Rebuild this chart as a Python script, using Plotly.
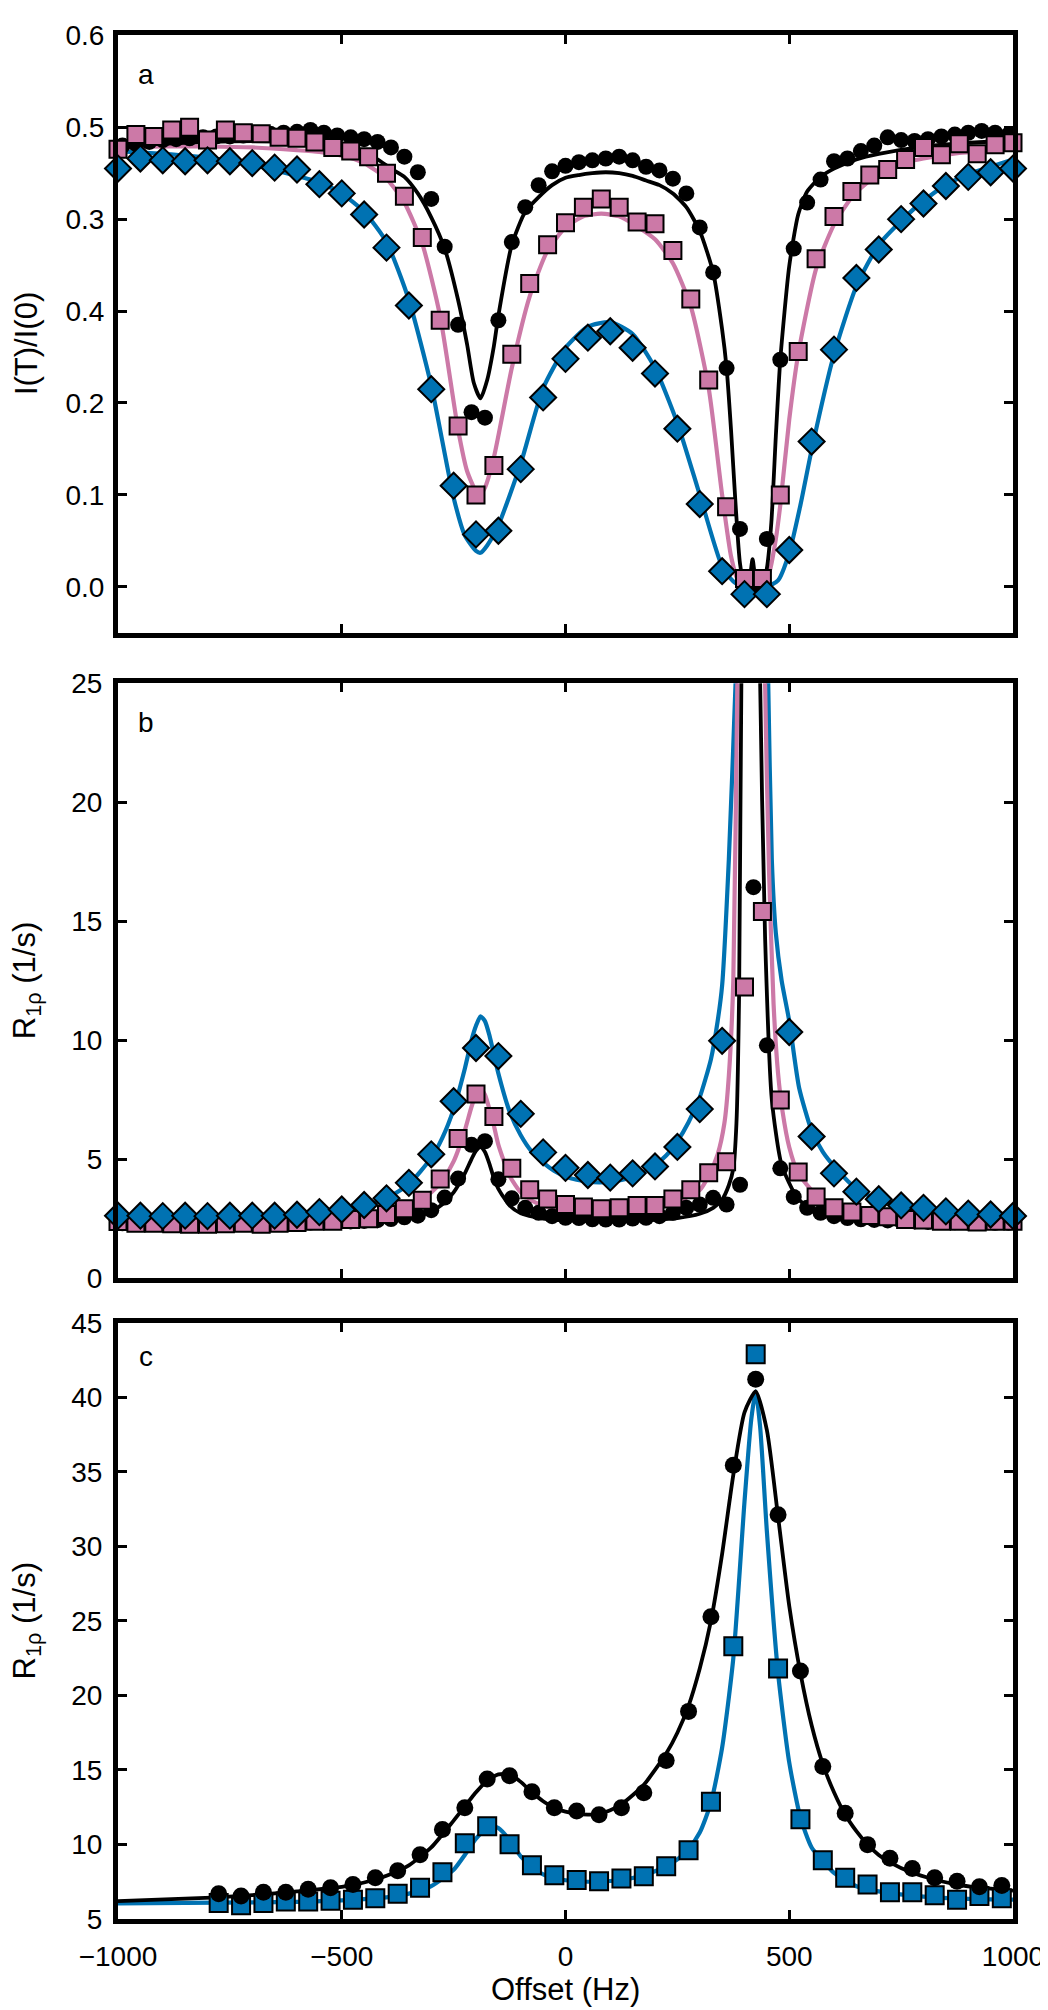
import plotly.graph_objects as go

FONT = "Liberation Sans, Arial, Helvetica, sans-serif"
BLACK = "#000000"
PINK = "#CC79A7"
BLUE = "#0072B2"

# ---------------- Panel a : I(T)/I(0) ----------------
a_circ_x = [-990, -960, -930, -900, -870, -840, -810, -780, -750, -720, -690, -660, -630, -600,
            -570, -540, -510, -480, -450, -420, -390, -360, -330, -300, -270, -240, -210, -180,
            -150, -120, -90, -60, -30, 0, 30, 60, 90, 120, 150, 180, 210, 240, 270, 300, 330,
            360, 390, 420, 450, 480, 510, 540, 570, 600, 630, 660, 690, 720, 750, 780, 810, 840,
            870, 900, 930, 960, 990]
a_circ_y = [0.480, 0.482, 0.484, 0.486, 0.487, 0.488, 0.489, 0.490, 0.490, 0.491, 0.492, 0.493,
            0.494, 0.495, 0.497, 0.494, 0.491, 0.489, 0.487, 0.484, 0.478, 0.468, 0.451, 0.422,
            0.370, 0.285, 0.190, 0.184, 0.290, 0.375, 0.413, 0.437, 0.452, 0.458, 0.462, 0.464,
            0.466, 0.468, 0.464, 0.457, 0.453, 0.444, 0.428, 0.391, 0.342, 0.238, 0.063, 0.003,
            0.052, 0.247, 0.368, 0.418, 0.443, 0.463, 0.466, 0.474, 0.480, 0.489, 0.486, 0.485,
            0.487, 0.490, 0.492, 0.494, 0.496, 0.494, 0.492]

a_sq_x = [-1000, -960, -920, -880, -840, -800, -760, -720, -680, -640, -600, -560, -520, -480,
          -440, -400, -360, -320, -280, -240, -200, -160, -120, -80, -40, 0, 40, 80, 120, 160,
          200, 240, 280, 320, 360, 400, 440, 480, 520, 560, 600, 640, 680, 720, 760, 800, 840,
          880, 920, 960, 1000]
a_sq_y = [0.476, 0.492, 0.490, 0.497, 0.500, 0.486, 0.497, 0.494, 0.493, 0.489, 0.488, 0.484,
          0.478, 0.474, 0.468, 0.450, 0.425, 0.380, 0.290, 0.175, 0.100, 0.132, 0.253, 0.330,
          0.372, 0.396, 0.413, 0.422, 0.413, 0.397, 0.395, 0.366, 0.313, 0.225, 0.087, 0.009,
          0.009, 0.100, 0.256, 0.357, 0.403, 0.430, 0.448, 0.454, 0.465, 0.478, 0.470, 0.482,
          0.471, 0.481, 0.483]

a_dia_x = [-1000, -950, -900, -850, -800, -750, -700, -650, -600, -550, -500, -450, -400, -350,
           -300, -250, -200, -150, -100, -50, 0, 50, 100, 150, 200, 250, 300, 350, 400, 450, 500,
           550, 600, 650, 700, 750, 800, 850, 900, 950, 1000]
a_dia_y = [0.455, 0.466, 0.464, 0.463, 0.464, 0.463, 0.461, 0.456, 0.454, 0.438, 0.428, 0.405,
           0.369, 0.306, 0.215, 0.110, 0.057, 0.061, 0.128, 0.206, 0.248, 0.271, 0.278, 0.260,
           0.232, 0.172, 0.090, 0.017, -0.008, -0.008, 0.040, 0.158, 0.258, 0.336, 0.367, 0.400,
           0.417, 0.436, 0.446, 0.451, 0.455]

a_black_fit_x = [-1000, -900, -800, -700, -600, -550, -500, -450, -420, -390, -360, -330, -300,
                 -270, -240, -220, -205, -190, -175, -160, -150, -120, -90, -60, -30, 0, 30, 60,
                 90, 120, 150, 180, 210, 240, 270, 300, 330, 350, 360, 370, 380, 390, 400, 410,
                 418, 426, 440, 450, 460, 470, 480, 500, 520, 540, 570, 600, 650, 700, 800, 900,
                 1000]
a_black_fit_y = [0.480, 0.482, 0.484, 0.485, 0.484, 0.483, 0.480, 0.472, 0.465, 0.455, 0.446,
                 0.428, 0.402, 0.368, 0.312, 0.264, 0.222, 0.205, 0.225, 0.262, 0.295, 0.372,
                 0.408, 0.424, 0.437, 0.445, 0.448, 0.450, 0.451, 0.450, 0.447, 0.442, 0.437,
                 0.428, 0.413, 0.387, 0.342, 0.280, 0.238, 0.170, 0.090, 0.025, 0.002, 0.006,
                 0.030, 0.006, 0.000, 0.020, 0.070, 0.164, 0.247, 0.349, 0.405, 0.430, 0.446,
                 0.455, 0.465, 0.471, 0.479, 0.483, 0.485]

a_pink_fit_x = [-1000, -900, -800, -700, -600, -550, -500, -450, -400, -360, -320, -280, -240,
                -220, -200, -190, -180, -160, -120, -80, -40, 0, 40, 80, 120, 160, 200, 240, 280,
                320, 350, 370, 385, 400, 420, 440, 455, 470, 480, 500, 520, 560, 600, 640, 680,
                720, 760, 800, 880, 1000]
a_pink_fit_y = [0.478, 0.479, 0.479, 0.478, 0.475, 0.473, 0.469, 0.461, 0.444, 0.418, 0.373,
                0.294, 0.171, 0.126, 0.104, 0.101, 0.108, 0.141, 0.238, 0.316, 0.366, 0.391,
                0.403, 0.406, 0.403, 0.392, 0.378, 0.352, 0.305, 0.216, 0.100, 0.033, 0.008,
                0.003, 0.002, 0.004, 0.015, 0.052, 0.089, 0.182, 0.253, 0.346, 0.394, 0.424,
                0.442, 0.455, 0.462, 0.466, 0.472, 0.476]

a_blue_fit_x = [-1000, -900, -800, -700, -600, -550, -500, -450, -400, -350, -300, -250, -225,
                -200, -190, -175, -150, -100, -50, 0, 50, 100, 150, 200, 250, 300, 350, 375, 400,
                425, 450, 475, 500, 525, 550, 600, 650, 700, 750, 800, 850, 900, 950, 1000]
a_blue_fit_y = [0.474, 0.471, 0.467, 0.459, 0.447, 0.440, 0.428, 0.408, 0.375, 0.312, 0.219,
                0.097, 0.056, 0.039, 0.037, 0.045, 0.067, 0.134, 0.216, 0.260, 0.283, 0.288,
                0.275, 0.238, 0.178, 0.100, 0.022, 0.006, 0.000, -0.002, 0.000, 0.007, 0.037,
                0.089, 0.149, 0.253, 0.327, 0.372, 0.398, 0.420, 0.437, 0.449, 0.457, 0.465]

a_tick_vals = [0.0, 0.1, 0.2, 0.3, 0.4, 0.5, 0.6]
a_tick_text = ["0.0", "0.1", "0.2", "0.4", "0.3", "0.5", "0.6"]

# ---------------- Panel b : R1rho ----------------
b_circ_x = a_circ_x
b_circ_y = [2.30, 2.28, 2.30, 2.28, 2.30, 2.30, 2.28, 2.30, 2.30, 2.31, 2.30, 2.32, 2.31, 2.33,
            2.33, 2.35, 2.37, 2.38, 2.40, 2.43, 2.48, 2.55, 2.62, 2.85, 3.38, 4.18, 5.60, 5.75,
            4.15, 3.35, 2.95, 2.74, 2.60, 2.53, 2.52, 2.47, 2.46, 2.46, 2.50, 2.53, 2.60, 2.74,
            2.95, 3.09, 3.37, 3.09, 3.92, 16.43, 9.78, 4.61, 3.41, 2.95, 2.74, 2.60, 2.52, 2.47,
            2.44, 2.42, 2.40, 2.38, 2.36, 2.35, 2.34, 2.33, 2.33, 2.32, 2.32]

b_sq_x = a_sq_x
b_sq_y = [2.38, 2.30, 2.30, 2.28, 2.26, 2.26, 2.28, 2.30, 2.26, 2.30, 2.33, 2.39, 2.39, 2.46,
          2.49, 2.67, 2.91, 3.27, 4.16, 5.86, 7.73, 6.79, 4.61, 3.71, 3.32, 3.09, 2.99, 2.91,
          2.95, 3.05, 3.05, 3.32, 3.71, 4.43, 4.89, 12.23, 15.41, 7.48, 4.46, 3.41, 2.95, 2.77,
          2.63, 2.58, 2.46, 2.44, 2.39, 2.39, 2.35, 2.39, 2.39]

b_dia_x = a_dia_x
b_dia_y = [2.62, 2.62, 2.60, 2.62, 2.60, 2.62, 2.62, 2.62, 2.66, 2.77, 2.88, 3.07, 3.35, 4.00,
           5.20, 7.43, 9.67, 9.33, 6.90, 5.28, 4.63, 4.33, 4.22, 4.40, 4.69, 5.51, 7.10, 9.97,
           None, None, 10.34, 5.95, 4.40, 3.63, 3.31, 3.05, 2.95, 2.80, 2.71, 2.67, 2.61]

b_black_fit_x = [-1000, -800, -600, -500, -400, -350, -300, -275, -250, -225, -210, -200, -190,
                 -180, -170, -160, -150, -125, -100, -50, 0, 100, 200, 250, 300, 330, 350, 365,
                 375, 382, 388, 393, 420, 435, 446, 461, 483, 517, 550, 600, 700, 1000]
b_black_fit_y = [2.25, 2.26, 2.28, 2.32, 2.42, 2.55, 2.80, 3.10, 3.60, 4.40, 5.00, 5.35, 5.50,
                 5.30, 4.80, 4.20, 3.75, 3.05, 2.72, 2.50, 2.42, 2.40, 2.45, 2.52, 2.70, 2.95,
                 3.30, 3.90, 4.60, 6.50, 12.0, 25.0, 60.0, 25.0, 14.3, 7.5, 4.75, 3.40, 2.85,
                 2.55, 2.40, 2.30]

b_pink_fit_x = [-1000, -800, -600, -500, -400, -350, -300, -275, -250, -225, -210, -200, -190,
                -180, -170, -160, -150, -125, -100, -75, -50, 0, 50, 100, 150, 200, 250, 300,
                320, 340, 355, 365, 375, 384, 400, 420, 440, 446, 455, 465, 475, 485, 500, 520,
                560, 600, 650, 700, 800, 1000]
b_pink_fit_y = [2.30, 2.30, 2.35, 2.45, 2.70, 3.00, 3.60, 4.10, 4.90, 6.20, 7.20, 7.70, 7.95,
                7.70, 7.10, 6.40, 5.60, 4.30, 3.60, 3.25, 3.05, 2.85, 2.78, 2.78, 2.84, 2.95,
                3.20, 3.70, 4.30, 5.20, 6.50, 8.50, 12.5, 25.0, 45.0, 60.0, 40.0, 25.0, 17.0,
                11.5, 8.6, 7.0, 5.5, 4.4, 3.5, 3.0, 2.7, 2.55, 2.42, 2.33]

b_blue_fit_x = [-1000, -900, -800, -700, -600, -550, -500, -450, -400, -350, -300, -275, -250,
                -225, -210, -200, -190, -180, -170, -160, -150, -125, -100, -75, -50, -25, 0, 25,
                50, 75, 100, 125, 150, 175, 200, 225, 250, 275, 300, 325, 340, 350, 365, 380,
                395, 420, 440, 453, 461, 470, 483, 500, 522, 550, 575, 600, 650, 700, 800, 900,
                1000]
b_blue_fit_y = [2.58, 2.60, 2.62, 2.66, 2.71, 2.77, 2.87, 3.05, 3.35, 3.95, 5.05, 5.90, 7.10,
                8.80, 10.0, 10.6, 11.0, 10.8, 10.2, 9.4, 8.6, 7.0, 6.0, 5.3, 4.85, 4.5, 4.27,
                4.13, 4.05, 4.02, 4.04, 4.12, 4.26, 4.46, 4.75, 5.15, 5.75, 6.55, 7.6, 9.2, 10.8,
                12.3, 17.6, 25.0, 35.0, 50.0, 40.0, 25.0, 17.6, 14.5, 12.5, 10.8, 8.0, 6.2, 5.3,
                4.7, 3.75, 3.3, 2.88, 2.74, 2.67]

# ---------------- Panel c : R1rho ----------------
c_x = [-775, -725, -675, -625, -575, -525, -475, -425, -375, -325, -275, -225, -175, -125, -75,
       -25, 25, 75, 125, 175, 225, 275, 325, 375, 425, 475, 525, 575, 625, 675, 725, 775, 825,
       875, 925, 975]
c_circ_y = [6.69, 6.54, 6.79, 6.79, 7.00, 7.10, 7.31, 7.77, 8.24, 9.31, 11.01, 12.46, 14.40,
            14.61, 13.54, 12.46, 12.24, 12.00, 12.46, 13.47, 15.63, 18.93, 25.28, 35.45, 41.21,
            32.12, 21.64, 15.23, 12.09, 9.99, 9.07, 8.39, 7.77, 7.53, 7.16, 7.25]
c_sq_y = [6.08, 5.92, 6.08, 6.17, 6.17, 6.23, 6.29, 6.39, 6.69, 7.10, 8.14, 10.08, 11.22, 10.02,
          8.61, 7.93, 7.62, 7.53, 7.71, 7.87, 8.54, 9.62, 12.86, 23.30, 42.90, 21.80, 11.69, 8.94,
          7.77, 7.31, 6.79, 6.79, 6.60, 6.29, 6.54, 6.39]

c_black_fit_x = [-1000, -775, -700, -600, -500, -450, -400, -350, -300, -250, -200, -175, -150,
                 -125, -100, -75, -50, -25, 0, 25, 50, 75, 100, 125, 150, 175, 200, 225, 250,
                 275, 300, 325, 350, 375, 400, 425, 450, 475, 500, 525, 550, 575, 600, 625, 650,
                 675, 700, 725, 775, 825, 875, 925, 1000]
c_black_fit_y = [6.20, 6.45, 6.60, 6.85, 7.15, 7.45, 7.90, 8.60, 9.80, 11.6, 13.5, 14.3, 14.7,
                 14.7, 14.2, 13.5, 12.9, 12.45, 12.2, 12.05, 12.0, 12.05, 12.3, 12.7, 13.3, 14.0,
                 15.0, 16.1, 17.5, 19.3, 21.8, 25.0, 29.5, 34.8, 39.0, 40.4, 37.8, 32.0, 26.0,
                 21.5, 18.0, 15.4, 13.5, 12.0, 10.9, 10.0, 9.3, 8.8, 8.1, 7.65, 7.3, 7.1, 6.9]

c_blue_fit_x = [-1000, -775, -600, -500, -400, -350, -300, -250, -225, -200, -175, -160, -150,
                -125, -100, -75, -50, -25, 0, 50, 100, 150, 200, 250, 275, 300, 325, 350, 375,
                400, 415, 425, 435, 450, 475, 500, 525, 550, 575, 600, 650, 700, 800, 900, 1000]
c_blue_fit_y = [6.05, 6.10, 6.15, 6.25, 6.45, 6.70, 7.20, 8.30, 9.30, 10.4, 11.1, 11.2, 11.1,
                10.3, 9.2, 8.5, 8.0, 7.75, 7.6, 7.5, 7.55, 7.75, 8.2, 9.0, 9.7, 10.8, 12.8, 16.5,
                22.5, 33.0, 38.5, 40.4, 38.0, 31.0, 21.5, 15.5, 11.8, 9.8, 8.9, 8.1, 7.2, 6.85,
                6.5, 6.35, 6.3]

x_tick_vals = [-1000, -500, 0, 500, 1000]

# ---------------- Figure ----------------
fig = go.Figure()


def add_line(x, y, color, width, n):
    fig.add_trace(go.Scatter(
        x=x, y=y, mode="lines",
        line=dict(color=color, width=width, shape="spline", smoothing=0.6),
        xaxis="x" + ("" if n == 1 else str(n)), yaxis="y" + ("" if n == 1 else str(n)),
        hoverinfo="skip", showlegend=False))


def add_markers(x, y, symbol, size, color, n, lw=2.0):
    fig.add_trace(go.Scatter(
        x=x, y=y, mode="markers", cliponaxis=False,
        marker=dict(symbol=symbol, size=size, color=color,
                    line=dict(color="black", width=lw)),
        xaxis="x" + ("" if n == 1 else str(n)), yaxis="y" + ("" if n == 1 else str(n)),
        showlegend=False))


# panel a
add_line(a_blue_fit_x, a_blue_fit_y, BLUE, 4.2, 1)
add_line(a_pink_fit_x, a_pink_fit_y, PINK, 4.2, 1)
add_line(a_black_fit_x, a_black_fit_y, BLACK, 3.8, 1)
add_markers(a_circ_x, a_circ_y, "circle", 16, BLACK, 1, lw=0)
add_markers(a_sq_x, a_sq_y, "square", 17, PINK, 1)
add_markers(a_dia_x, a_dia_y, "diamond", 20, BLUE, 1)

# panel b
add_line(b_blue_fit_x, b_blue_fit_y, BLUE, 4.2, 2)
add_line(b_pink_fit_x, b_pink_fit_y, PINK, 4.2, 2)
add_line(b_black_fit_x, b_black_fit_y, BLACK, 3.8, 2)
add_markers(b_circ_x, b_circ_y, "circle", 16, BLACK, 2, lw=0)
add_markers(b_sq_x, b_sq_y, "square", 17, PINK, 2)
add_markers(b_dia_x, b_dia_y, "diamond", 20, BLUE, 2)

# panel c
add_line(c_blue_fit_x, c_blue_fit_y, BLUE, 4.2, 3)
add_line(c_black_fit_x, c_black_fit_y, BLACK, 3.8, 3)
add_markers(c_x, c_sq_y, "square", 18, BLUE, 3)
add_markers(c_x, c_circ_y, "circle", 17, BLACK, 3, lw=0)

L, R, T, B = 110, 38, 19, 99
H = 2010
PH = H - T - B


def dom(top_px, bottom_px):
    return [(H - B - bottom_px) / PH, (H - B - top_px) / PH]


axis_common = dict(
    showline=True, linewidth=5, linecolor="black", mirror="ticks",
    ticks="inside", ticklen=9, tickwidth=2.5, tickcolor="black",
    showgrid=False, zeroline=False,
    tickfont=dict(family=FONT, size=28, color="black"),
)

layout = dict(
    width=1048, height=2010,
    margin=dict(l=L, r=R, t=T, b=B),
    paper_bgcolor="white", plot_bgcolor="white",
    font=dict(family=FONT, color="black"),
    showlegend=False,
)

doms = {1: dom(19.3, 619.3), 2: dom(670, 1267.3), 3: dom(1312.3, 1911)}
for n in (1, 2, 3):
    sx = "" if n == 1 else str(n)
    layout["xaxis" + sx] = dict(axis_common, range=[-1000, 1000], tickvals=x_tick_vals,
                               anchor="y" + sx, domain=[0, 1],
                               showticklabels=(n == 3), ticklabelstandoff=8)
layout["yaxis"] = dict(axis_common, range=[-0.05, 0.6], tickvals=a_tick_vals,
                       ticktext=a_tick_text, anchor="x", domain=doms[1], ticklabelstandoff=3)
layout["yaxis2"] = dict(axis_common, range=[0, 25], tickvals=[0, 5, 10, 15, 20, 25],
                        anchor="x2", domain=doms[2], ticklabelstandoff=5)
layout["yaxis3"] = dict(axis_common, range=[5, 45], tickvals=[5, 10, 15, 20, 25, 30, 35, 40, 45],
                        anchor="x3", domain=doms[3], ticklabelstandoff=5)

fig.update_layout(**layout)

ann = []
# panel letters
for n, letter, yd in ((1, "a", 0.9345), (2, "b", 0.9337), (3, "c", 0.9427)):
    sx = "" if n == 1 else str(n)
    ann.append(dict(text=letter, x=0.031, y=yd, xref="x%s domain" % sx, yref="y%s domain" % sx,
                    xanchor="center", yanchor="middle", showarrow=False,
                    font=dict(family=FONT, size=28, color="black")))
# y titles
title_x = (18 - L) / (1048 - L - R)
for n, txt, yd in ((1, "I(T)/I(0)", 0.484), (2, "R<sub>1ρ</sub> (1/s)", 0.5),
                   (3, "R<sub>1ρ</sub> (1/s)", 0.5)):
    sx = "" if n == 1 else str(n)
    ann.append(dict(text=txt, x=title_x, y=yd, xref="paper", yref="y%s domain" % sx,
                    xanchor="center", yanchor="middle", textangle=-90, showarrow=False,
                    font=dict(family=FONT, size=31, color="black")))
# x title
ann.append(dict(text="Offset (Hz)", x=0.5, y=(H - B - 1982) / PH, xref="paper", yref="paper",
                xanchor="center", yanchor="middle", showarrow=False,
                font=dict(family=FONT, size=31, color="black")))
fig.update_layout(annotations=ann)

fig.write_html("out.html")
